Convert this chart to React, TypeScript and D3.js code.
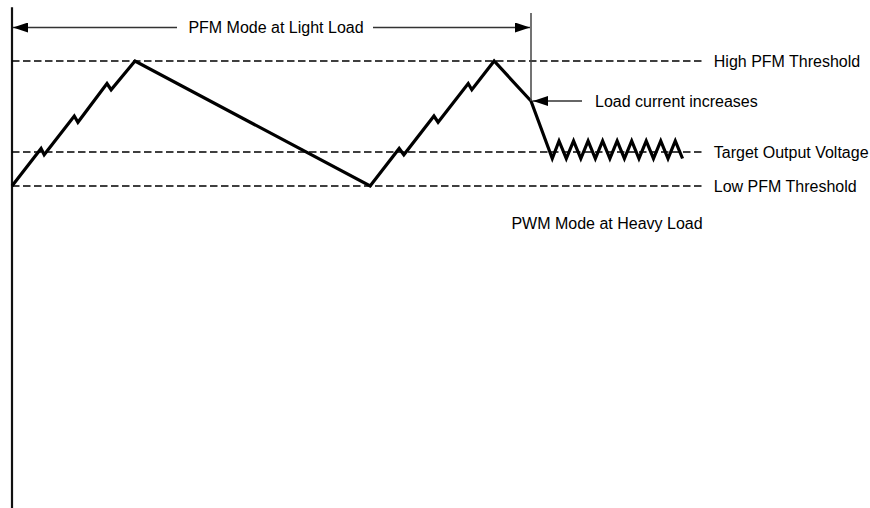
import React, { useRef, useEffect } from 'react';
import * as d3 from 'd3';

// Output voltage waveform, time in arbitrary units (100 = load step),
// voltage normalised so 0 = low PFM threshold and 1 = high PFM threshold.
const pfmTime = [0, 5.6, 6.2, 12.0, 12.7, 18.3, 19.1, 23.7, 69.0, 74.6, 75.5, 81.3, 82.1, 87.9, 88.6, 92.9, 100, 104.1];
const pfmVolt = [0, 0.30, 0.25, 0.56, 0.51, 0.82, 0.77, 1.0, 0, 0.30, 0.25, 0.56, 0.51, 0.82, 0.77, 1.0, 0.68, 0.22];

const pwmTime = [105.4, 106.8, 108.2, 109.6, 111.0, 112.4, 113.8, 115.2, 116.6, 118.0, 119.4, 120.8, 122.2, 123.6, 125.0, 126.4, 127.8, 129.2];
const pwmVolt = [0.36, 0.22, 0.36, 0.22, 0.36, 0.22, 0.36, 0.22, 0.36, 0.22, 0.36, 0.22, 0.36, 0.22, 0.36, 0.22, 0.36, 0.22];

const thresholdLabels = ['High PFM Threshold', 'Target Output Voltage', 'Low PFM Threshold'];
const thresholdValues = [1.0, 0.272, 0];

const loadStepTime = 100;
const loadStepVolt = 0.68;
const thresholdEnd = 133.1;
const axisExtent = [1.43, -2.58];

const App: React.FC = () => {
  const svgRef = useRef<SVGSVGElement>(null);
  const width = 870;
  const height = 508;

  useEffect(() => {
    if (!svgRef.current) return;
    const svg = d3.select(svgRef.current);
    svg.selectAll('*').remove();

    const x = d3.scaleLinear().domain([0, 100]).range([12, 531]);
    const y = d3.scaleLinear().domain([0, 1]).range([186, 61]);
    const font = 'Liberation Sans, Arial, Helvetica, sans-serif';

    const defs = svg.append('defs');
    defs.append('marker')
      .attr('id', 'arrow')
      .attr('viewBox', '0 0 15 10')
      .attr('refX', 15)
      .attr('refY', 5)
      .attr('markerWidth', 15)
      .attr('markerHeight', 10)
      .attr('markerUnits', 'userSpaceOnUse')
      .attr('orient', 'auto')
      .append('path')
      .attr('d', 'M0,0 L15,5 L0,10 Z')
      .attr('fill', '#000');

    // Vertical axis
    svg.append('line')
      .attr('x1', x(0))
      .attr('x2', x(0))
      .attr('y1', y(axisExtent[0]))
      .attr('y2', y(axisExtent[1]))
      .attr('stroke', '#111')
      .attr('stroke-width', 2.2);

    // Threshold lines
    thresholdValues.forEach((v, i) => {
      svg.append('line')
        .attr('x1', x(0))
        .attr('x2', x(thresholdEnd))
        .attr('y1', y(v))
        .attr('y2', y(v))
        .attr('stroke', '#000')
        .attr('stroke-width', 1.7)
        .attr('stroke-dasharray', '7.5,3.5');
      svg.append('text')
        .attr('x', x(thresholdEnd) + 11)
        .attr('y', y(v))
        .attr('dy', '0.35em')
        .attr('font-family', font)
        .attr('font-size', '16px')
        .attr('fill', '#000')
        .text(thresholdLabels[i]);
    });

    // Waveform
    const pts: [number, number][] = pfmTime.map((t, i) => [t, pfmVolt[i]] as [number, number])
      .concat(pwmTime.map((t, i) => [t, pwmVolt[i]] as [number, number]));
    const line = d3.line<[number, number]>()
      .x(d => x(d[0]))
      .y(d => y(d[1]));
    svg.append('path')
      .datum(pts)
      .attr('d', line)
      .attr('fill', 'none')
      .attr('stroke', '#000')
      .attr('stroke-width', 3.2)
      .attr('stroke-linejoin', 'miter');

    // Mode boundary
    const ay = 27.5;
    svg.append('line')
      .attr('x1', x(loadStepTime))
      .attr('x2', x(loadStepTime))
      .attr('y1', 13)
      .attr('y2', y(loadStepVolt))
      .attr('stroke', '#444')
      .attr('stroke-width', 1.5);

    // PFM span arrows
    svg.append('line')
      .attr('x1', 177)
      .attr('x2', x(0) + 1)
      .attr('y1', ay)
      .attr('y2', ay)
      .attr('stroke', '#333')
      .attr('stroke-width', 1.3)
      .attr('marker-end', 'url(#arrow)');
    svg.append('line')
      .attr('x1', 373)
      .attr('x2', x(loadStepTime) - 1)
      .attr('y1', ay)
      .attr('y2', ay)
      .attr('stroke', '#333')
      .attr('stroke-width', 1.3)
      .attr('marker-end', 'url(#arrow)');
    svg.append('text')
      .attr('x', 276)
      .attr('y', ay)
      .attr('dy', '0.35em')
      .attr('text-anchor', 'middle')
      .attr('font-family', font)
      .attr('font-size', '16px')
      .attr('fill', '#000')
      .text('PFM Mode at Light Load');

    // Load current annotation
    svg.append('line')
      .attr('x1', 582)
      .attr('x2', x(loadStepTime) + 2)
      .attr('y1', y(loadStepVolt))
      .attr('y2', y(loadStepVolt))
      .attr('stroke', '#333')
      .attr('stroke-width', 1.3)
      .attr('marker-end', 'url(#arrow)');
    svg.append('text')
      .attr('x', 595)
      .attr('y', y(loadStepVolt))
      .attr('dy', '0.35em')
      .attr('font-family', font)
      .attr('font-size', '16px')
      .attr('fill', '#000')
      .text('Load current increases');

    svg.append('text')
      .attr('x', 607)
      .attr('y', y(-0.296))
      .attr('dy', '0.35em')
      .attr('text-anchor', 'middle')
      .attr('font-family', font)
      .attr('font-size', '16px')
      .attr('fill', '#000')
      .text('PWM Mode at Heavy Load');
  }, []);

  return (
    <svg
      ref={svgRef}
      width={width}
      height={height}
      style={{ position: 'absolute', left: 0, top: 0, background: '#fff' }}
    />
  );
};

export default App;
